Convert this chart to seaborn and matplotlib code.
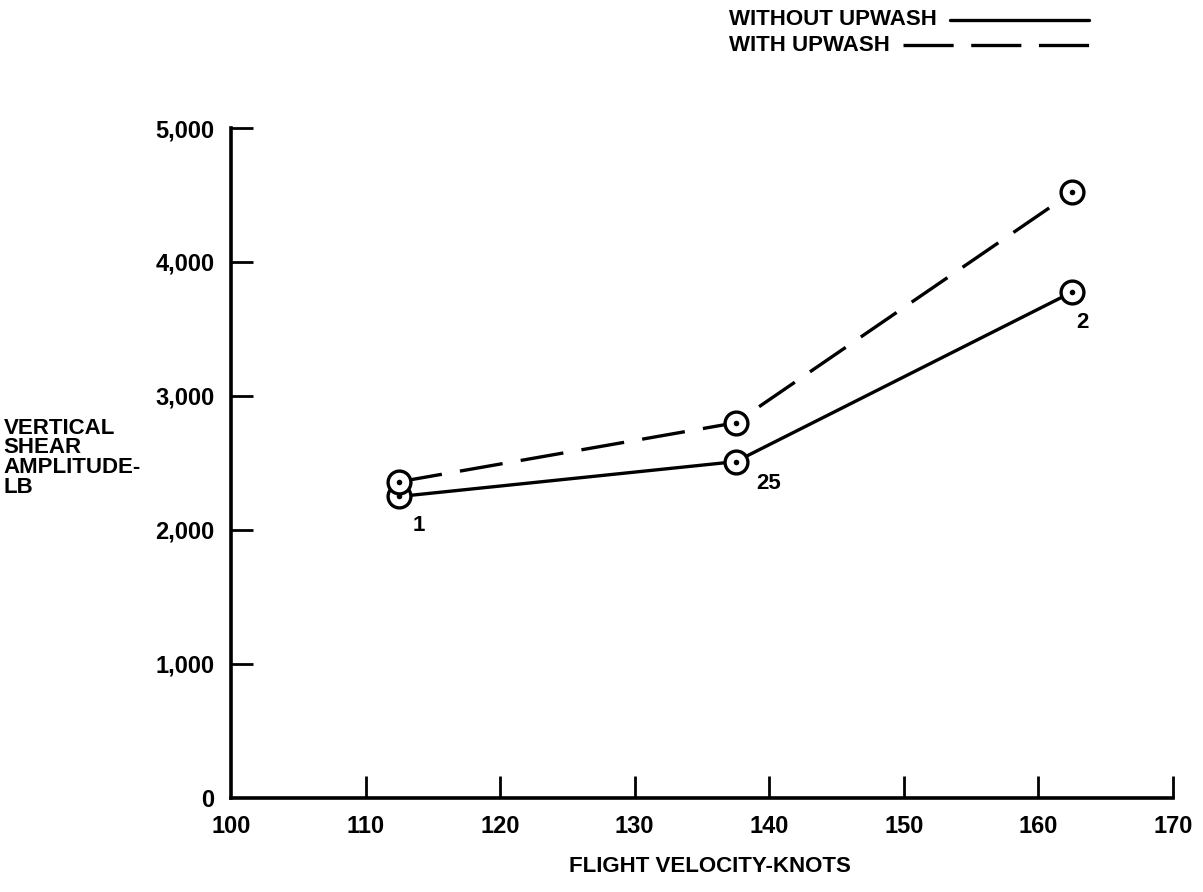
import pandas as pd
import seaborn as sns
import matplotlib.pyplot as plt
from matplotlib.lines import Line2D

# values
velocity = [112.5, 137.5, 162.5]
shear_without = [2250, 2510, 3775]
shear_with = [2360, 2800, 4520]
point_labels = ["1", "25", "2"]
series_names = ["WITHOUT UPWASH", "WITH UPWASH"]
x_ticks = [100, 110, 120, 130, 140, 150, 160, 170]
y_ticks = [0, 1000, 2000, 3000, 4000, 5000]


def build_frame():
    rows = []
    for name, vals in zip(series_names, [shear_without, shear_with]):
        for v, s in zip(velocity, vals):
            rows.append({"velocity": v, "shear": s, "series": name})
    return pd.DataFrame(rows)


def main():
    sns.set_theme(style="ticks")
    plt.rcParams["font.family"] = ["Liberation Sans", "DejaVu Sans"]
    plt.rcParams["font.weight"] = "bold"
    # plain black ink like the scanned original
    for key in ["text.color", "axes.edgecolor", "xtick.color", "ytick.color",
                "axes.labelcolor"]:
        plt.rcParams[key] = "black"

    df = build_frame()
    fig = plt.figure(figsize=(12.03, 8.92), dpi=100)
    ax = fig.add_axes([0.192, 0.1054, 0.783, 0.7511])

    dash_map = {series_names[0]: "", series_names[1]: (13, 5.5)}
    sns.lineplot(data=df, x="velocity", y="shear", style="series", dashes=dash_map,
                 color="black", linewidth=2.4, legend=False, ax=ax, zorder=2)

    # open circles with a center dot
    for vals in [shear_without, shear_with]:
        sns.scatterplot(x=velocity, y=vals, s=270, marker="o", facecolor="white",
                        edgecolor="black", linewidth=2.4, ax=ax, zorder=3)
        sns.scatterplot(x=velocity, y=vals, s=16, color="black", linewidth=0,
                        ax=ax, zorder=4)

    # run numbers next to the solid-line points
    offsets = [(10, -21), (15, -16), (3, -22)]
    for v, s, lab, off in zip(velocity, shear_without, point_labels, offsets):
        ax.annotate(lab, (v, s), xytext=off, textcoords="offset points",
                    ha="left", va="center", fontsize=16, fontweight="bold")

    ax.set_xlim(100, 170)
    ax.set_ylim(0, 5000)
    ax.set_xticks(x_ticks)
    ax.set_yticks(y_ticks)
    ax.set_yticklabels([f"{t:,}" for t in y_ticks])
    ax.tick_params(direction="in", length=16, width=2, labelsize=17, pad=12)
    for lab in ax.get_xticklabels() + ax.get_yticklabels():
        lab.set_fontweight("bold")
    # corner ticks sit on the spines; hide them
    ax.xaxis.get_major_ticks()[0].tick1line.set_visible(False)
    ax.yaxis.get_major_ticks()[0].tick1line.set_visible(False)
    sns.despine(ax=ax)
    for sp in ["left", "bottom"]:
        ax.spines[sp].set_linewidth(2.6)
    ax.set_xlabel("")
    ax.set_ylabel("")

    fig.text(0.59, 0.029, "FLIGHT VELOCITY-KNOTS", ha="center", va="center",
             fontsize=16, fontweight="bold")
    fig.text(0.003, 0.487, "VERTICAL\nSHEAR\nAMPLITUDE-\nLB", ha="left", va="center",
             fontsize=16, fontweight="bold", linespacing=0.92)

    # legend: left-aligned text, lines running to a common right end
    leg_end = 0.905
    leg_rows = [0.978, 0.949]
    fig.canvas.draw()
    for i, (name, yy) in enumerate(zip(series_names, leg_rows)):
        t = fig.text(0.606, yy, name, ha="left", va="center", fontsize=16,
                     fontweight="bold")
        bb = t.get_window_extent(renderer=fig.canvas.get_renderer())
        x0 = bb.x1 / fig.bbox.width + 0.011
        ln = Line2D([x0, leg_end], [yy, yy], color="black", linewidth=2.4,
                    transform=fig.transFigure)
        if i == 1:
            # three dashes, two gaps, filling the line exactly
            length_pt = (leg_end - x0) * fig.bbox.width * 72 / fig.dpi
            d = length_pt / 3.7 / 2.4
            ln.set_dashes((d, 0.35 * d))
        fig.add_artist(ln)

    fig.savefig("out.png", dpi=100)


if __name__ == "__main__":
    main()
